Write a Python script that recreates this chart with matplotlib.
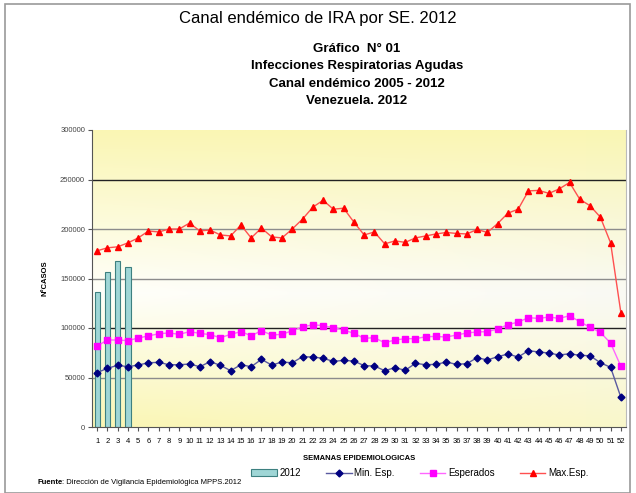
import numpy as np
import matplotlib
matplotlib.use("Agg")
import matplotlib.pyplot as plt
from matplotlib.patches import Rectangle

plt.rcParams['font.family'] = ['Liberation Sans', 'DejaVu Sans']

weeks = list(range(1, 53))
bars_2012 = [136000, 157000, 168000, 161500]
min_esp = [54900, 59300, 62300, 60900, 62600, 64900, 65300, 62900, 62900, 63600,
           60900, 66000, 62300, 56900, 62900, 60900, 68300, 62600, 65600, 64900,
           71000, 70700, 69400, 66300, 67300, 66600, 62000, 61600, 56900, 59900,
           57300, 64300, 62900, 63300, 65600, 63300, 64000, 70000, 67700, 71000,
           73700, 70700, 77100, 75800, 74700, 72700, 74000, 72400, 72000, 64900,
           60300, 30000]
esperados = [81800, 87900, 87900, 87200, 89900, 92000, 94200, 95000, 93600, 96300,
             94600, 93300, 90200, 93600, 96300, 92200, 97300, 92900, 93600, 97300,
             101000, 103300, 102300, 100300, 98000, 94600, 89600, 90200, 85100, 87900,
             89200, 89200, 91200, 91500, 90900, 92900, 95000, 96000, 96300, 99000,
             103300, 106000, 110400, 109700, 111100, 109700, 112400, 106400, 100700, 95600,
             84800, 61300]
max_esp = [178000, 181000, 182000, 186000, 191000, 198000, 197000, 200000, 200000, 206000,
           198000, 199000, 194000, 193000, 204000, 191000, 201000, 192000, 191000, 200000,
           210000, 222000, 229000, 220000, 221000, 207000, 194000, 197000, 185000, 188000,
           186500, 191000, 193000, 195000, 196500, 195500, 195000, 199500, 196500, 205500,
           216000, 220000, 238500, 239000, 236000, 240500, 247000, 230000, 223500, 212000,
           186000, 115500]
y_ticks = [0, 50000, 100000, 150000, 200000, 250000, 300000]

fig = plt.figure(figsize=(6.36, 4.93), dpi=100)
fig.patch.set_facecolor('white')

# outer frame
fig.add_artist(Rectangle((5/636, 0.0), 625/636, 1 - 4/493, transform=fig.transFigure,
                         fill=False, edgecolor='#9a9a9a', linewidth=1.2))

fig.text(0.5, 1 - 19/493, 'Canal endémico de IRA por SE. 2012', ha='center', va='center',
         fontsize=12)
sub = ['Gráfico  N° 01', 'Infecciones Respiratorias Agudas',
       'Canal endémico 2005 - 2012', 'Venezuela. 2012']
for i, s in enumerate(sub):
    fig.text(357/636, 1 - (49 + i * 17.5)/493, s, ha='center', va='center',
             fontsize=9.5, fontweight='bold')

ax = fig.add_axes([92/636, 1 - 427/493, 534/636, 297/493])
ax.set_xlim(0.5, 52.5)
ax.set_ylim(0, 300000)

# background gradient
ny, nx = 200, 200
yy = np.linspace(0, 1, ny)[:, None]  # 0 bottom .. 1 top
xx = np.linspace(0, 1, nx)[None, :]
top = np.clip((yy - 0.45) / 0.55, 0, 1)
bot = np.clip((0.45 - yy) / 0.45, 0, 1)
yel = np.clip(np.maximum(top * 1.0, bot * (1.0 - 0.35 * xx)), 0, 1)
white = np.array([255, 255, 250]) / 255
yellow = np.array([250, 246, 180]) / 255
grayish = np.array([246, 246, 240]) / 255
base = white[None, None, :] * (1 - 0.6 * xx[..., None]) + grayish[None, None, :] * (0.6 * xx[..., None])
img = base * (1 - yel[..., None]) + yellow[None, None, :] * yel[..., None]
ax.imshow(img, extent=[0.5, 52.5, 0, 300000], origin='lower', aspect='auto', zorder=0)

for v in y_ticks[1:-1]:
    c = '#222222' if v in (100000, 250000) else '#8c8c8c'
    ax.axhline(v, color=c, linewidth=1.0, zorder=1)

hb = ax.bar(weeks[:4], bars_2012, width=0.5, color='#9fd6d6', edgecolor='#3d8080',
            linewidth=0.8, zorder=2, label='2012')
h1, = ax.plot(weeks, min_esp, color='#5a5aa0', linewidth=1.0, marker='D', markersize=3.5,
              markerfacecolor='#000080', markeredgecolor='#000080', zorder=3, label='Min. Esp.')
h2, = ax.plot(weeks, esperados, color='#ff66ff', linewidth=1.0, marker='s', markersize=5,
              markerfacecolor='#ff00ff', markeredgecolor='#ff00ff', zorder=3, label='Esperados')
h3, = ax.plot(weeks, max_esp, color='#ff5050', linewidth=1.0, marker='^', markersize=4.5,
              markerfacecolor='#ff0000', markeredgecolor='#ff0000', zorder=3, label='Max.Esp.')

ax.set_yticks(y_ticks)
ax.set_yticklabels([str(v) for v in y_ticks], fontsize=5.5, color='#444444')
ax.set_xticks(weeks)
ax.set_xticklabels([str(w) for w in weeks], fontsize=5.5)
ax.tick_params(axis='both', length=3, width=0.8, color='#555555', pad=2)
ax.tick_params(axis='x', pad=5)
ax.spines['top'].set_visible(False)
ax.spines['right'].set_color('#bbbbbb')
ax.spines['left'].set_color('#555555')
ax.spines['bottom'].set_color('#555555')

ax.set_xlabel('SEMANAS EPIDEMIOLOGICAS', fontsize=5.5, fontweight='bold')
ax.xaxis.set_label_coords(0.5, -0.095)
ax.set_ylabel('N°CASOS', fontsize=5.5, fontweight='bold', labelpad=8)

fig.legend([hb, h1, h2, h3], ['2012', 'Min. Esp.', 'Esperados', 'Max.Esp.'],
           loc='center', bbox_to_anchor=(420/636, 1 - 473/493), ncol=4,
           frameon=False, fontsize=7, handlelength=2.6, columnspacing=2.6,
           handletextpad=0.3, handleheight=0.6)

fig.text(38/636, 1 - 482/493, 'Fuente', fontsize=5.5, fontweight='bold', va='center')
fig.text(62/636, 1 - 482/493, ': Dirección de Vigilancia Epidemiológica MPPS.2012',
         fontsize=5.5, va='center')

fig.savefig('out.png', dpi=100)
